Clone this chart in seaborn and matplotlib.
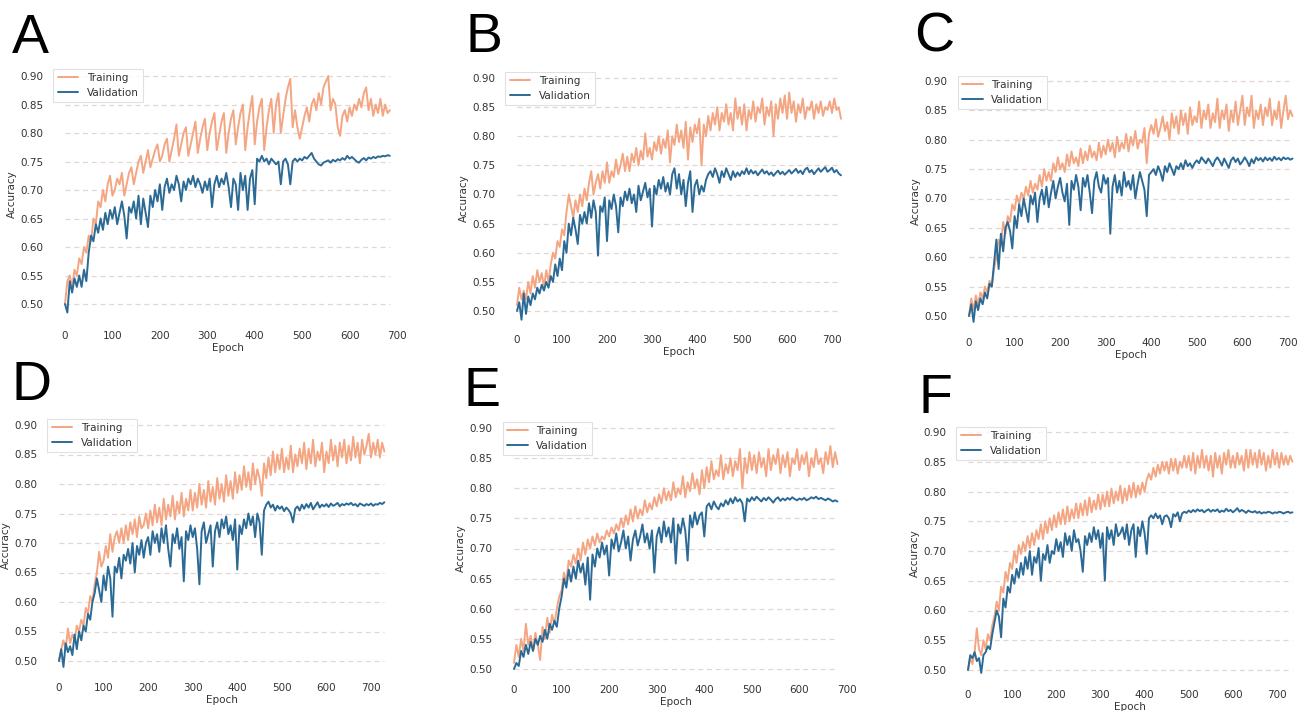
import numpy as np
import pandas as pd
import matplotlib
matplotlib.use("Agg")
import matplotlib.pyplot as plt
import seaborn as sns
from matplotlib.ticker import FormatStrFormatter

# ---------------- data (accuracy in %, one value every 5 epochs) ----------------
EPOCH_STEP = 5
SERIES = ["Training", "Validation"]
PANELS = ["A", "B", "C", "D", "E", "F"]
Y_TICKS = [0.50, 0.55, 0.60, 0.65, 0.70, 0.75, 0.80, 0.85, 0.90]
X_TICKS = [0, 100, 200, 300, 400, 500, 600, 700]

train_a = [50, 54, 55, 53, 56, 55, 58, 57, 60, 59,
           62, 61, 65, 64, 68, 67, 70, 68, 71, 72.5,
           69, 70, 72, 71, 73, 69, 71, 73, 74, 71,
           73, 75, 76, 73, 75, 77, 74, 75.5, 77, 78,
           75, 76, 78, 79, 75, 77, 79, 81.5, 76, 78,
           80, 81, 76, 78, 80, 82, 76.5, 79, 81, 82.5,
           77, 80, 82, 83.5, 77, 79.5, 82, 83.5, 76.5, 80,
           82.5, 84, 78, 81, 83.5, 85, 77, 81, 84, 86.5,
           78, 82, 84.5, 86, 77, 81, 84, 86, 80, 85,
           87, 80, 83, 86, 88, 89.5, 81, 84, 81, 79,
           81, 83, 84.5, 82, 85, 86, 84, 87, 85, 88,
           89, 90, 84, 86, 85, 81, 79.5, 83, 84, 82,
           84.5, 83, 85, 84, 86, 84.5, 87, 88, 84, 86,
           83, 85, 83.5, 86, 83, 85, 83.5, 84]
val_a = [50, 48.5, 54, 52, 54.5, 53, 55, 53, 56, 54,
         59, 62, 61, 64, 62.5, 65, 63, 66, 64, 66.5,
         65, 67, 64, 66, 68, 65.5, 61.5, 67, 66, 68,
         65, 69, 64, 68.5, 66, 63.5, 69, 67, 70, 68,
         71, 66.5, 70.5, 72, 69.5, 71, 70, 72.5, 71, 68,
         71.5, 70, 72, 71, 72.5, 70.5, 72, 71, 69.5, 71.5,
         70, 72, 67, 71, 72.5, 70.5, 72, 71, 73, 70.5,
         67, 72, 71, 66.5, 73, 70, 72.5, 66.5, 72, 73.5,
         67.5, 75.5, 75, 76, 75, 75.5, 74.5, 75.5, 75, 74.5,
         75, 71, 75, 75.5, 74.5, 71, 75, 75.5, 75, 75.5,
         75.2, 75.8, 75.5, 76, 76.5, 75.5, 75, 74.5, 74.3, 74.8,
         75, 75.2, 74.8, 75.3, 75, 75.4, 75.2, 75.6, 75.3, 76,
         75.5, 75.8, 75.4, 75, 74.8, 75.3, 75.6, 75.2, 75.7, 75.5,
         75.8, 75.6, 75.9, 75.8, 76, 75.9, 76.1, 76]

train_b = [51, 54, 52, 53.5, 52, 55, 53, 56, 54, 57,
           55, 56.5, 54, 57, 55, 58, 60, 59, 62, 61,
           64, 63, 67, 70, 68, 66, 69, 67, 70, 68,
           71, 69, 72, 74, 70, 72, 73.5, 71, 74, 72,
           75.5, 72, 74, 73, 76, 73.5, 75, 77, 74, 76.5,
           74, 77, 75.5, 78, 75, 77.5, 76, 80.5, 76.5, 78,
           76, 79, 77.5, 80, 77, 79.5, 78, 81, 75.5, 80,
           78.5, 82, 79, 81, 78, 82.5, 76, 81.5, 79, 82,
           80.5, 83, 75, 82, 80, 83.5, 81, 84, 82, 85,
           81, 84, 82.5, 85.5, 82, 84, 81, 86.5, 83, 85,
           82, 85.5, 81, 84.5, 83, 86, 82.5, 85, 84, 86.5,
           82, 85, 83.5, 86, 80, 85.5, 83, 86.5, 84, 87,
           83, 87.5, 84, 86, 82.5, 85.5, 84, 86.5, 83, 85,
           84.5, 86, 83, 85.5, 84, 86, 83.5, 85, 84.5, 86,
           84, 86.5, 84.5, 85, 83]
val_b = [50, 51.5, 48.5, 53, 49.5, 52.5, 51, 53, 52, 54,
         53, 54.5, 53.5, 55, 54, 56, 55, 58, 56, 59,
         57, 62, 60, 65, 63, 66, 64, 61.5, 66.5, 65,
         67, 65, 68.5, 66, 69, 67, 59.5, 68, 67, 69.5,
         62, 69, 67.5, 70, 68, 63.5, 69.5, 68, 70.5, 69,
         71, 68.5, 70, 67, 71.5, 69, 70.5, 72, 69.5, 71,
         64.5, 71.5, 70, 72.5, 71, 73, 70.5, 72, 70, 73.5,
         74.5, 71, 73.5, 70, 72.5, 68, 72, 74, 67, 71.5,
         72.5, 70, 71.5, 70.5, 72.5, 73.5, 74, 73, 74.5, 73.5,
         72, 74, 73, 74.5, 73.5, 72.5, 74, 73, 73.8, 73.2,
         74, 73.5, 74.5, 73.5, 74.2, 73.6, 74, 73.3, 73.8, 74.3,
         73.6, 74, 73.4, 73.8, 73.2, 73.7, 74.1, 73.5, 73.9, 73.4,
         73.8, 74.2, 73.6, 74, 74.4, 73.7, 74.1, 73.5, 74.3, 74.6,
         73.8, 74.2, 73.5, 74, 74.5, 73.9, 74.3, 74.7, 73.9, 74.2,
         74.6, 73.8, 74.2, 73.6, 73.3]

train_c = [50, 53, 51, 53.5, 52, 54, 53, 55, 54, 56,
           55, 58, 60, 63, 62, 66, 64, 67, 66, 69,
           68, 70.5, 69, 71, 70, 72, 70.5, 73, 71, 72.5,
           71.5, 74, 72, 75, 73, 74.5, 73, 76, 74.5, 77,
           75, 76, 74.5, 77.5, 75.5, 78, 76, 77, 75.5, 78.5,
           76, 78, 76.5, 79, 77, 78, 76.5, 79.5, 77, 79,
           77.5, 80, 78, 79.5, 77, 80.5, 78, 79.5, 78.5, 81,
           78, 80.5, 79, 81.5, 78.5, 80, 79.5, 82, 76, 81,
           82.5, 81, 83.5, 80.5, 82, 84, 81.5, 83, 80, 84.5,
           82, 84, 81, 85, 82.5, 84.5, 81, 85.5, 82.5, 84,
           83, 86.5, 82, 85, 83.5, 86, 82, 84.5, 83, 87,
           82, 85, 83.5, 86, 81.5, 85, 83, 86.5, 82.5, 85,
           87.5, 82.5, 85.5, 84, 87.5, 82, 85, 83.5, 86, 82.5,
           85.5, 84, 87, 82.5, 85, 83.5, 86.5, 82, 85, 87.5,
           83.5, 85, 84]
val_c = [50, 52, 49, 52.5, 51, 53, 52, 54, 53, 55.5,
         55, 59, 63, 58, 64, 61, 65, 66, 64.5, 61.5,
         67, 65, 69, 67, 70, 68, 66, 70.5, 69, 71,
         66, 70, 71.5, 69, 72, 68.5, 71, 73, 70, 72,
         73.5, 71, 69.5, 72.5, 65.5, 73, 71.5, 74, 72, 68,
         73.5, 72, 74, 71, 67.5, 73, 74.5, 72, 71, 74,
         72.5, 73.5, 64, 72, 74, 71, 73, 70.5, 74.5, 72,
         73, 71.5, 74, 70, 72.5, 74.5, 73, 71.5, 67, 74,
         74.5, 75, 74, 75.5, 74.5, 73, 75.5, 74.5, 76, 75,
         74, 75.5, 75, 76, 75, 76.5, 75.5, 76, 75.2, 76,
         76.5, 76, 77, 76.5, 76, 76.8, 76.2, 75.5, 76.5, 77,
         76.4, 75.6, 76.8, 76, 75.2, 76.5, 77, 76.2, 76.8, 75.8,
         76.3, 77, 76.4, 75.5, 76.7, 76, 77, 76.5, 76.9, 76.3,
         77, 76.5, 76.9, 76.4, 77.1, 76.6, 76.9, 76.5, 77, 76.7,
         76.9, 76.6, 76.8]

train_d = [50, 52, 53.5, 52, 55.5, 53, 54.5, 53.5, 56, 55,
           57, 56, 59, 58, 61, 60, 63, 65, 68.5, 66,
           67, 69.5, 67.5, 71.5, 68.5, 71, 72, 70, 72.5, 70,
           73, 70.5, 73.5, 71.5, 74, 71, 74.5, 72.5, 73, 75,
           72.5, 75.5, 73, 76.5, 73.5, 76, 73, 77.5, 74, 76.5,
           74.5, 78, 74, 77, 75, 78.5, 74.5, 77.5, 75.5, 79,
           75.5, 78.5, 76, 80, 76.5, 79, 76, 80.5, 77, 79.5,
           76.5, 81, 77.5, 80, 77, 81.5, 78, 80.5, 77.5, 82,
           78.5, 81.5, 79, 83, 79.5, 82, 79, 83.5, 80, 82.5,
           81, 78, 83.5, 81, 84.5, 81.5, 85.5, 82, 85, 82.5,
           86, 82, 84.5, 82.5, 86.5, 82, 85, 83, 86, 83.5,
           87, 82.5, 86, 83.5, 87.5, 83, 85.5, 84, 87, 82,
           85.5, 83.5, 87.5, 84, 86.5, 83, 87, 84.5, 87.5, 83.5,
           86.5, 84, 88, 84.5, 87, 83.5, 87.5, 85, 86.5, 88.5,
           84.5, 87, 85, 87.5, 84.5, 87, 85.5]
val_d = [50, 52, 49, 53, 51.5, 52.5, 51, 54.5, 52, 55,
         53.5, 56, 55, 58, 57, 60, 61.5, 64, 62, 60,
         64.5, 62, 66, 64, 57.5, 66, 65, 67.5, 64, 68,
         67, 69, 66.5, 70, 65, 69.5, 68, 70.5, 67.5, 70,
         71, 68, 72, 70, 71.5, 68.5, 72.5, 70, 73, 69,
         66, 71.5, 70, 72.5, 69, 71, 63.5, 72, 70.5, 73,
         71, 72.5, 69, 63, 72, 73.5, 70, 71.5, 73, 66,
         72, 73.5, 71, 74, 72.5, 74.5, 71.5, 73, 70.5, 74,
         65.5, 73, 71.5, 74, 72.5, 75, 73, 74.5, 71, 75,
         73.5, 68, 75.5, 76.5, 77, 76, 76.5, 75.5, 76.3, 75.8,
         76.2, 75.4, 76, 75.6, 75, 73.5, 75.8, 76.2, 75.5, 76.5,
         75.8, 76.6, 76, 76.8, 75.7, 76.3, 76.9, 76, 76.5, 76.2,
         76.6, 76.1, 76.7, 76.3, 76.5, 76.8, 76.2, 76.6, 76.4, 76.7,
         76.5, 76.8, 76.4, 76.6, 76.2, 76.7, 76.5, 76.3, 76.6, 76.4,
         76.7, 76.3, 76.6, 76.5, 76.8, 76.6, 76.9]

train_e = [51, 54, 52, 55, 53, 57.5, 54, 55.5, 53, 56,
           54, 51.5, 57, 55, 58.5, 56, 59, 57.5, 60, 62,
           63, 66, 64.5, 68, 67, 69, 67.5, 70, 68, 71,
           69, 71.5, 70, 72, 70.5, 72.5, 71, 72, 71.5, 73,
           72, 73.5, 72.5, 74, 73, 75, 73.5, 75.5, 74, 76.5,
           74.5, 77, 75, 76.5, 75.5, 78, 76, 77.5, 76.5, 78.5,
           77, 79, 77.5, 80, 78, 79.5, 78, 81, 78.5, 80,
           79, 82, 78.5, 81, 79.5, 82.5, 80, 81.5, 79, 83,
           80, 83.5, 81, 84.5, 81.5, 83, 82, 85.5, 81.5, 84,
           82.5, 85, 82, 84.5, 83, 86.5, 80, 85, 82.5, 86,
           83, 85.5, 82.5, 86, 83.5, 85, 82, 86.5, 83, 85.5,
           84, 86.5, 82.5, 85.5, 83.5, 86, 82, 85, 84, 86.5,
           83, 85.5, 84, 86, 82, 85, 83.5, 86.5, 84, 85,
           82.5, 86, 84, 87, 83.5, 86, 84]
val_e = [50, 51, 50.5, 53, 52, 54, 52.5, 54.5, 53, 55,
         54, 55.5, 54.5, 56.5, 55, 57.5, 56.5, 58, 57, 60,
         62, 65, 63.5, 66.5, 64.5, 67, 65, 68, 66, 67.5,
         64, 68.5, 61.5, 69, 67, 70, 68.5, 71, 69, 70.5,
         65.5, 71.5, 70, 72.5, 69.5, 71, 73, 70, 72, 68,
         71.5, 73, 70.5, 72, 74, 71, 72.5, 70, 73, 66,
         72, 73.5, 71, 74.5, 72, 73.5, 71, 75, 67.5, 74,
         72.5, 75, 73, 68, 75.5, 73.5, 76, 74, 75.5, 76,
         72, 77, 77.5, 76.5, 77.8, 77, 76.5, 77.5, 77, 78,
         77.3, 78.3, 77.5, 78.5, 77.8, 78.2, 77.5, 74.5, 78.3, 77.8,
         78.5, 78, 78.6, 78.2, 77.8, 78.4, 78, 78.5, 78.1, 77.6,
         78.2, 78.5, 77.9, 78.3, 78, 78.4, 78.1, 78.5, 78.2, 78,
         78.3, 78.1, 78.4, 78, 78.2, 78.5, 78.3, 78.6, 78.2, 78.4,
         78.2, 78, 78.3, 78.1, 77.8, 78, 77.8]

train_f = [50, 52, 51, 53, 57, 53.5, 52.5, 55, 53.5, 56,
           55, 57.5, 59, 61.5, 60, 64, 63, 66.5, 65, 68,
           67, 70, 68, 71, 69.5, 71.5, 70, 72.5, 70.5, 73,
           71, 73.5, 72, 74.5, 72, 75, 73, 75.5, 73.5, 76,
           74, 76.5, 74.5, 77, 74.5, 77.5, 75, 77, 75.5, 78,
           75.5, 78, 76, 78.5, 76, 79, 76.5, 78.5, 77, 79.5,
           77, 79.5, 77.5, 80, 77.5, 80.5, 78, 80, 78.5, 81,
           78, 80.5, 78.5, 81, 79, 81.5, 79, 81, 79.5, 81.5,
           80, 82, 83, 82, 84, 82.5, 84.5, 83, 85, 83.5,
           85, 83, 85.5, 83.5, 85.5, 83, 85, 84, 86, 84,
           86, 83.5, 86.5, 83, 86, 84, 87, 84, 86, 83.5,
           86, 82.5, 86.5, 84, 86, 83, 86.5, 84.5, 87, 84,
           86, 84, 86.5, 84.5, 86, 83.5, 87, 84, 87, 84.5,
           86.5, 84, 87, 84.5, 86.5, 83.5, 86, 84, 87, 84.5,
           86.5, 84, 86.5, 84.5, 86, 84.5, 86, 85]
val_f = [50, 52.5, 52, 53, 51.5, 52, 49.5, 52.5, 53, 54,
         53.5, 56, 58, 60, 59, 55.5, 62, 60.5, 64, 63,
         66, 64.5, 67, 65.5, 68, 66, 69, 67, 70, 66,
         69, 68, 70.5, 65, 69.5, 68.5, 71, 68, 70, 69.5,
         72, 70, 71.5, 69, 73, 71, 72.5, 70, 73.5, 71.5,
         72, 70, 66.5, 72.5, 71, 73, 71.5, 74, 72, 73.5,
         70.5, 73, 65, 74, 72, 73.5, 71, 74.5, 72.5, 73,
         74, 72, 74.5, 71, 73.5, 74.5, 69, 74, 72.5, 75,
         73, 69.5, 75.5, 76, 75.5, 76.3, 75.5, 76, 74.5, 75.8,
         76, 75.5, 74, 76.2, 75.8, 76.5, 75, 76.3, 76.6, 76.4,
         76.8, 76.5, 76.9, 76.6, 77, 76.7, 76.9, 76.5, 76.8, 77,
         76.6, 76.9, 76.7, 77, 76.5, 76.8, 76.6, 77.1, 76.7, 76.9,
         76.5, 76.8, 77.2, 76.6, 76.9, 76.7, 76.4, 76.8, 76.6, 76.5,
         76.7, 76.4, 76.6, 76.3, 76.5, 76.4, 76.6, 76.5, 76.3, 76.5,
         76.4, 76.6, 76.5, 76.3, 76.5, 76.6, 76.4, 76.5]

TRAIN = [train_a, train_b, train_c, train_d, train_e, train_f]
VALID = [val_a, val_b, val_c, val_d, val_e, val_f]

# ---------------- layout (pixels in a 1307x711 figure) ----------------
W, H = 1307, 711
LAYOUT = {
    "A": dict(x0=65, x700=397, y90=76, y50=304, top=64, bottom=325, letter=(12, 53)),
    "B": dict(x0=517, x700=832, y90=78, y50=311, top=67, bottom=329, letter=(465, 52)),
    "C": dict(x0=969, x700=1288, y90=81, y50=316, top=71, bottom=332, letter=(914, 52)),
    "D": dict(x0=59, x700=371, y90=425, y50=661, top=414, bottom=677, letter=(11, 400)),
    "E": dict(x0=514, x700=847, y90=428, y50=669, top=417, bottom=679, letter=(463, 406)),
    "F": dict(x0=968, x700=1277, y90=432, y50=670, top=422, bottom=684, letter=(918, 413)),
}

C_TRAIN = "#f4a582"
C_VAL = "#2c6a96"
C_GRID = "#e0d6d3"
C_TEXT = "#333333"
FS = 7.5

sns.set_style("white")
plt.rcParams["font.family"] = ["DejaVu Sans"]
plt.rcParams["text.color"] = C_TEXT
plt.rcParams["axes.labelcolor"] = C_TEXT
plt.rcParams["xtick.color"] = C_TEXT
plt.rcParams["ytick.color"] = C_TEXT

fig = plt.figure(figsize=(W / 100, H / 100), dpi=100)


def frame(train, val):
    parts = []
    for name, vals in zip(SERIES, (train, val)):
        acc = np.asarray(vals, dtype=float) / 100.0
        ep = np.arange(len(acc)) * EPOCH_STEP
        parts.append(pd.DataFrame({"Epoch": ep, "Accuracy": acc, "Series": name}))
    return pd.concat(parts, ignore_index=True)


for key, tr, va in zip(PANELS, TRAIN, VALID):
    L = LAYOUT[key]
    df = frame(tr, va)
    last = df["Epoch"].max()
    xlim = (-0.05 * last, 1.05 * last)
    ppe = (L["x700"] - L["x0"]) / 700.0
    ppu = (L["y50"] - L["y90"]) / 0.40
    ytop = 0.90 + (L["y90"] - L["top"]) / ppu
    ybot = 0.50 - (L["bottom"] - L["y50"]) / ppu
    left = L["x0"] + xlim[0] * ppe
    width = (xlim[1] - xlim[0]) * ppe
    ax = fig.add_axes([left / W, 1 - L["bottom"] / H, width / W, (L["bottom"] - L["top"]) / H])

    ax.hlines(Y_TICKS, df["Epoch"].min(), last, colors=C_GRID,
              linestyles=(0, (4, 3)), linewidth=0.9, zorder=0)
    sns.lineplot(data=df, x="Epoch", y="Accuracy", hue="Series", hue_order=SERIES,
                 palette=[C_TRAIN, C_VAL], linewidth=1.4, estimator=None, ax=ax)

    ax.set_xlim(*xlim)
    ax.set_ylim(ybot, ytop)
    ax.set_xticks(X_TICKS)
    ax.set_yticks(Y_TICKS)
    ax.yaxis.set_major_formatter(FormatStrFormatter("%.2f"))
    ax.tick_params(axis="both", length=0, labelsize=FS, pad=4)
    for s in ax.spines.values():
        s.set_visible(False)
    ax.set_xlabel("Epoch", fontsize=FS, labelpad=2)
    ax.set_ylabel("Accuracy", fontsize=FS, labelpad=2)

    handles, labels = ax.get_legend_handles_labels()
    leg = ax.legend(handles, labels, loc="upper left", fontsize=FS, frameon=True,
                    fancybox=False, edgecolor="#d9d9d9", borderaxespad=0.45,
                    borderpad=0.4, handlelength=2.0)
    leg.get_frame().set_linewidth(0.8)

    lx, ly = L["letter"]
    fig.text(lx / W, 1 - ly / H, key, fontsize=40, family="Liberation Sans",
             color="black", ha="left", va="baseline")

fig.savefig("out.png", dpi=100)
